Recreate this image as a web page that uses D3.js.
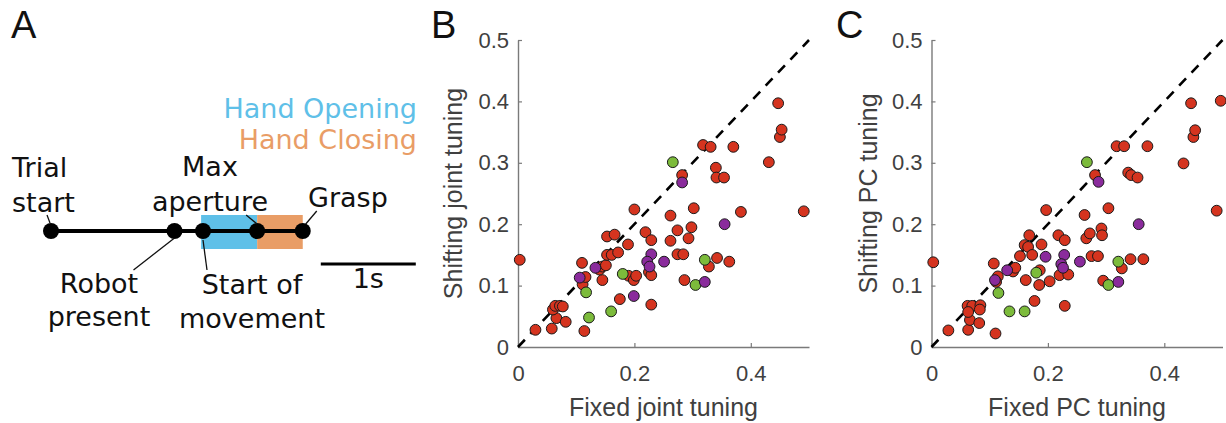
<!DOCTYPE html>
<html>
<head>
<meta charset="utf-8">
<script src="https://cdn.jsdelivr.net/npm/d3@7"></script>
<style>
  html, body { margin: 0; padding: 0; background: #fff; }
  svg { display: block; }
</style>
</head>
<body>
<svg id="fig" width="1226" height="423"></svg>
<script>
// ---------- Panel A: trial timeline ----------
const eventNames = ["Trial start", "Robot present", "Start of movement", "Max aperture", "Grasp"];
const eventTimes = [0, 1.3, 1.6, 2.17, 2.65];            // seconds from trial start
const phaseNames = ["Hand Opening", "Hand Closing"];
const phaseSpans = [[1.58, 2.17], [2.17, 2.65]];          // seconds
const scaleBarSpan = [2.84, 3.84];                        // 1 s scale bar
const scaleBarLabel = "1s";

// ---------- Panels B and C: tuning strength, fixed vs shifting ----------
const xTickValues = [0, 0.2, 0.4];
const yTickValues = [0, 0.1, 0.2, 0.3, 0.4, 0.5];

const jointRed = [
  [0.003,0.142],[0.030,0.028],[0.058,0.030],[0.066,0.047],[0.082,0.041],
  [0.060,0.061],[0.064,0.067],[0.072,0.067],[0.077,0.066],[0.114,0.026],
  [0.110,0.137],[0.111,0.102],[0.116,0.114],[0.145,0.109],[0.140,0.126],
  [0.145,0.131],[0.151,0.133],[0.153,0.150],[0.161,0.150],[0.172,0.154],
  [0.153,0.180],[0.166,0.183],[0.189,0.167],[0.175,0.078],[0.190,0.116],
  [0.199,0.109],[0.203,0.116],[0.200,0.224],[0.219,0.187],[0.229,0.174],
  [0.225,0.122],[0.229,0.117],[0.229,0.069],[0.262,0.214],[0.262,0.173],
  [0.274,0.190],[0.274,0.151],[0.284,0.151],[0.286,0.109],[0.282,0.280],
  [0.298,0.195],[0.293,0.177],[0.302,0.226],[0.318,0.329],[0.331,0.326],
  [0.370,0.326],[0.340,0.292],[0.341,0.276],[0.354,0.276],[0.342,0.145],
  [0.328,0.131],[0.363,0.139],[0.383,0.220],[0.431,0.301],[0.447,0.397],
  [0.450,0.342],[0.453,0.354],[0.491,0.221]
];
const jointGreen = [
  [0.117,0.089],[0.122,0.048],[0.160,0.058],[0.180,0.119],
  [0.266,0.301],[0.321,0.142],[0.305,0.101]
];
const jointPurple = [
  [0.106,0.113],[0.133,0.129],[0.199,0.083],[0.229,0.151],[0.222,0.139],
  [0.226,0.131],[0.251,0.139],[0.282,0.268],[0.355,0.200],[0.321,0.106]
];

const pcRed = [
  [0.003,0.138],[0.029,0.027],[0.063,0.028],[0.066,0.044],[0.082,0.039],
  [0.062,0.067],[0.070,0.067],[0.084,0.068],[0.063,0.057],[0.083,0.061],
  [0.110,0.022],[0.107,0.136],[0.114,0.115],[0.111,0.106],[0.140,0.123],
  [0.144,0.129],[0.152,0.148],[0.160,0.166],[0.166,0.163],[0.168,0.182],
  [0.173,0.150],[0.162,0.109],[0.177,0.075],[0.186,0.125],[0.189,0.167],
  [0.185,0.101],[0.197,0.223],[0.203,0.107],[0.218,0.182],[0.229,0.174],
  [0.220,0.117],[0.235,0.118],[0.229,0.067],[0.263,0.215],[0.266,0.177],
  [0.272,0.185],[0.275,0.148],[0.286,0.148],[0.292,0.193],[0.293,0.182],
  [0.295,0.108],[0.281,0.280],[0.304,0.226],[0.318,0.327],[0.331,0.327],
  [0.371,0.327],[0.338,0.284],[0.343,0.280],[0.354,0.276],[0.342,0.143],
  [0.364,0.143],[0.327,0.128],[0.433,0.299],[0.446,0.397],[0.450,0.342],
  [0.453,0.353],[0.490,0.222],[0.497,0.401]
];
const pcGreen = [
  [0.115,0.088],[0.134,0.058],[0.160,0.058],[0.180,0.121],
  [0.267,0.301],[0.321,0.139],[0.304,0.101]
];
const pcPurple = [
  [0.109,0.109],[0.130,0.125],[0.196,0.147],[0.228,0.150],[0.223,0.135],
  [0.226,0.129],[0.255,0.139],[0.287,0.269],[0.356,0.200],[0.321,0.106]
];

// ---------- drawing ----------
const svg = d3.select("#fig");
svg.append("rect").attr("width", 1226).attr("height", 423).attr("fill", "#fff");

const SANS = "'Liberation Sans', Arial, Helvetica, sans-serif";
const VERD = "'DejaVu Sans', Verdana, sans-serif";
const COL = { red: "#d5341f", green: "#7cbb3b", purple: "#8a2b9c",
              open: "#5fc0e8", close: "#e99d66" };

// panel letters
[["A", 11], ["B", 431], ["C", 836]].forEach(([t, x]) => {
  svg.append("text").attr("x", x).attr("y", 38)
    .attr("font-family", SANS).attr("font-size", 38).attr("fill", "#111").text(t);
});

// ----- timeline -----
const tx = d3.scaleLinear().domain([0, 1]).range([51, 146]);  // 1 s -> 95 px
const lineY = 231;
const gA = svg.append("g");

// phase bands
const phaseColors = [COL.open, COL.close];
gA.selectAll("rect.phase").data(phaseSpans).join("rect")
  .attr("class", "phase")
  .attr("x", d => tx(d[0])).attr("width", d => tx(d[1]) - tx(d[0]))
  .attr("y", lineY - 16).attr("height", 34)
  .attr("fill", (d, i) => phaseColors[i]);

// phase legend
const legendBaselines = [118, 149];
phaseNames.forEach((name, i) => {
  gA.append("text").attr("x", 417).attr("y", legendBaselines[i])
    .attr("text-anchor", "end").attr("font-family", VERD).attr("font-size", 27)
    .attr("fill", phaseColors[i]).text(name);
});

// main line and events
gA.append("line")
  .attr("x1", tx(eventTimes[0])).attr("x2", tx(eventTimes[eventTimes.length - 1]))
  .attr("y1", lineY).attr("y2", lineY)
  .attr("stroke", "#000").attr("stroke-width", 4);

gA.selectAll("circle.ev").data(eventTimes).join("circle")
  .attr("class", "ev")
  .attr("cx", d => tx(d)).attr("cy", lineY).attr("r", 8).attr("fill", "#000");

// event labels: text lines, anchor, leader line (relative to event dot)
const eventLabelLayout = [
  { lines: ["Trial", "start"], x: 12, ys: [177, 212], anchor: "start", leader: [[-4, -16], [-1, -8]] },
  { lines: ["Robot", "present"], x: 99, ys: [293, 326], anchor: "middle", leader: [[0, 7], [-41, 39]] },
  { lines: ["Start of", "movement"], x: 252, ys: [294, 328], anchor: "middle", leader: [[0, 9], [4, 39]] },
  { lines: ["Max", "aperture"], x: 210, ys: [176, 211], anchor: "middle", leader: [[0, -7], [-11, -16]] },
  { lines: ["Grasp"], x: 308, ys: [207], anchor: "start", leader: [[3, -7], [14, -20]] }
];
eventLabelLayout.forEach((lay, i) => {
  const cx = tx(eventTimes[i]);
  lay.lines.forEach((ln, j) => {
    gA.append("text").attr("x", lay.x).attr("y", lay.ys[j])
      .attr("text-anchor", lay.anchor).attr("font-family", VERD)
      .attr("font-size", 27).attr("fill", "#111").text(ln);
  });
  gA.append("line")
    .attr("x1", cx + lay.leader[0][0]).attr("y1", lineY + lay.leader[0][1])
    .attr("x2", cx + lay.leader[1][0]).attr("y2", lineY + lay.leader[1][1])
    .attr("stroke", "#111").attr("stroke-width", 1.3);
});

// scale bar
gA.append("line")
  .attr("x1", tx(scaleBarSpan[0])).attr("x2", tx(scaleBarSpan[1]))
  .attr("y1", 264).attr("y2", 264)
  .attr("stroke", "#000").attr("stroke-width", 3);
gA.append("text")
  .attr("x", (tx(scaleBarSpan[0]) + tx(scaleBarSpan[1])) / 2).attr("y", 288)
  .attr("text-anchor", "middle").attr("font-family", VERD).attr("font-size", 27)
  .attr("fill", "#111").text(scaleBarLabel);

// ----- scatter panels -----
function scatterPanel(opt) {
  const x = d3.scaleLinear().domain([0, 0.5]).range([opt.left, opt.left + 291]);
  const y = d3.scaleLinear().domain([0, 0.5]).range([347, 40]);
  const g = svg.append("g");
  const fmt = d => d === 0 ? "0" : d3.format(".1f")(d);

  const ax = g.append("g").attr("transform", `translate(0,${y(0)})`)
    .call(d3.axisBottom(x).tickValues(xTickValues).tickFormat(fmt)
      .tickSizeInner(-4).tickSizeOuter(0).tickPadding(18));
  const ay = g.append("g").attr("transform", `translate(${x(0)},0)`)
    .call(d3.axisLeft(y).tickValues(yTickValues).tickFormat(fmt)
      .tickSizeInner(-4).tickSizeOuter(0).tickPadding(9));
  [ax, ay].forEach(a => {
    a.select(".domain").attr("stroke", "#7a7a7a").attr("stroke-width", 1.4);
    a.selectAll(".tick line").attr("stroke", "#7a7a7a").attr("stroke-width", 1.2);
    a.selectAll(".tick text").attr("font-family", SANS).attr("font-size", 22)
      .attr("fill", "#404040");
  });

  // identity line
  g.append("line")
    .attr("x1", x(0)).attr("y1", y(0)).attr("x2", x(0.5)).attr("y2", y(0.5))
    .attr("stroke", "#000").attr("stroke-width", 2.6).attr("stroke-dasharray", "10,8");

  // points
  [[opt.red, COL.red], [opt.green, COL.green], [opt.purple, COL.purple]].forEach(([data, c]) => {
    g.append("g").selectAll("circle").data(data).join("circle")
      .attr("cx", d => x(d[0])).attr("cy", d => y(d[1])).attr("r", 5.4)
      .attr("fill", c).attr("stroke", "#1a1a1a").attr("stroke-width", 1);
  });

  // axis titles
  g.append("text").attr("x", (x(0) + x(0.5)) / 2).attr("y", 416)
    .attr("text-anchor", "middle").attr("font-family", SANS).attr("font-size", 25)
    .attr("fill", "#404040").text(opt.xLabel);
  g.append("text")
    .attr("transform", `translate(${opt.yLabelX},${(y(0) + y(0.5)) / 2}) rotate(-90)`)
    .attr("text-anchor", "middle").attr("font-family", SANS).attr("font-size", 25)
    .attr("fill", "#404040").text(opt.yLabel);
}

scatterPanel({ left: 518, red: jointRed, green: jointGreen, purple: jointPurple,
  xLabel: "Fixed joint tuning", yLabel: "Shifting joint tuning", yLabelX: 462 });
scatterPanel({ left: 931.5, red: pcRed, green: pcGreen, purple: pcPurple,
  xLabel: "Fixed PC tuning", yLabel: "Shifting PC tuning", yLabelX: 877 });
</script>
</body>
</html>
